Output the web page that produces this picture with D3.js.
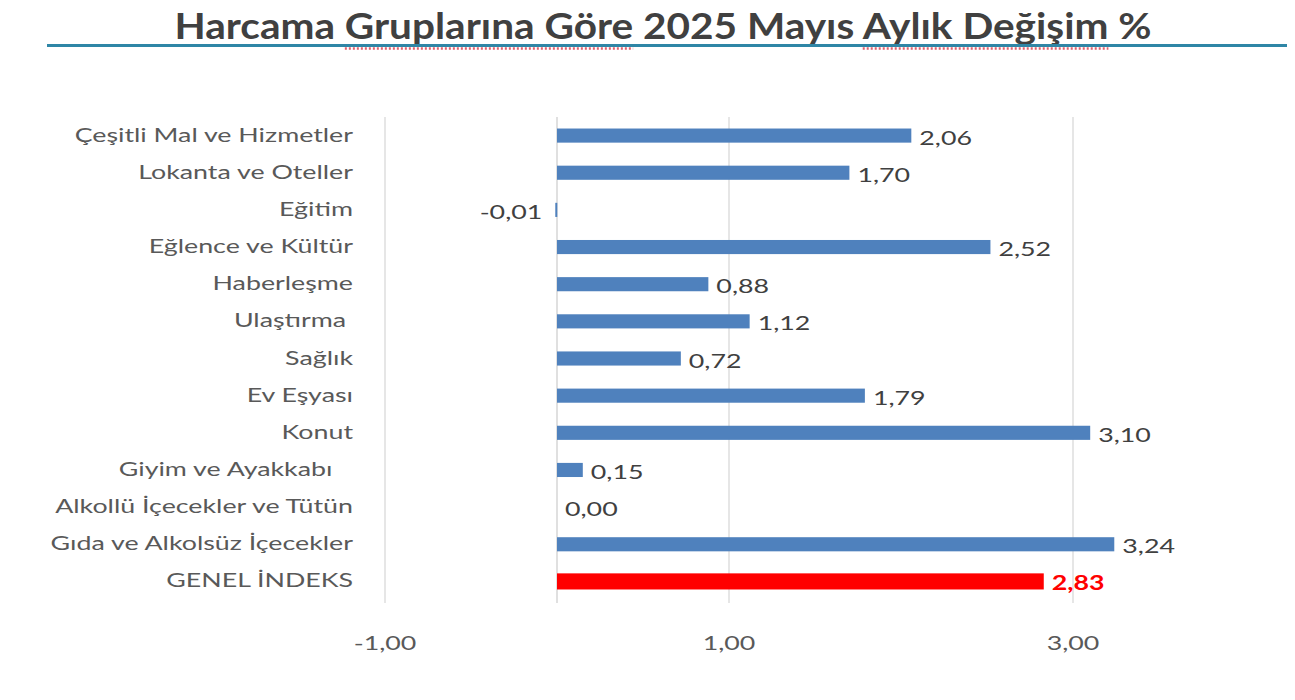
<!DOCTYPE html>
<html>
<head>
<meta charset="utf-8">
<script src="https://cdn.jsdelivr.net/npm/d3@7"></script>
<style>
  html, body { margin: 0; padding: 0; background: #fff; }
  text { font-family: Lato, "Open Sans", sans-serif; }
</style>
</head>
<body>
<div id="chart"></div>
<script>
// categories, top to bottom as in the picture
const categories = [
  "Çeşitli Mal ve Hizmetler",
  "Lokanta ve Oteller",
  "Eğitim",
  "Eğlence ve Kültür",
  "Haberleşme",
  "Ulaştırma ",
  "Sağlık",
  "Ev Eşyası",
  "Konut",
  "Giyim ve Ayakkabı   ",
  "Alkollü İçecekler ve Tütün",
  "Gıda ve Alkolsüz İçecekler",
  "GENEL İNDEKS"
];
const values = [2.06, 1.70, -0.01, 2.52, 0.88, 1.12, 0.72, 1.79, 3.10, 0.15, 0.00, 3.24, 2.83];
const tickValues = [-1, 1, 3];
const highlight = "GENEL İNDEKS";
const title = "Harcama Gruplarına Göre 2025 Mayıs Aylık Değişim %";

function drawChart() {
  const width = 1295;
  const height = 700;
  const stretch = 1.34; // the source text is drawn wide
  const fmt = (v) => d3.format(".2f")(v).replace("−", "-").replace(".", ",");

  const svg = d3
    .select("#chart")
    .append("svg")
    .attr("width", width)
    .attr("height", height);

  const x = d3.scaleLinear().domain([-1, 4]).range([385, 1245]);
  const y = d3.scaleBand().domain(categories).range([117, 600]).padding(0);
  const barH = y.bandwidth() * 0.38;

  // title and rule under it
  const t = svg
    .append("text")
    .attr("x", 663)
    .attr("y", 39)
    .attr("text-anchor", "middle")
    .attr("font-size", 37)
    .attr("font-weight", "bold")
    .attr("fill", "#404040")
    .attr("textLength", 977)
    .attr("lengthAdjust", "spacingAndGlyphs")
    .text(title);

  svg
    .append("line")
    .attr("x1", 47)
    .attr("x2", 1287)
    .attr("y1", 45.5)
    .attr("y2", 45.5)
    .attr("stroke", "#2F86A6")
    .attr("stroke-width", 3);

  // spell-check marks under two word pairs of the title
  const node = t.node();
  ["Gruplarına Göre", "Aylık Değişim"].forEach((w) => {
    const i0 = title.indexOf(w);
    const i1 = i0 + w.length - 1;
    const a = node.getStartPositionOfChar(i0).x;
    const b = node.getEndPositionOfChar(i1).x;
    svg
      .append("line")
      .attr("x1", a)
      .attr("x2", b)
      .attr("y1", 48.5)
      .attr("y2", 48.5)
      .attr("stroke", "#E0606E")
      .attr("stroke-width", 2.5)
      .attr("stroke-dasharray", "2,2");
  });

  // grid lines
  svg
    .append("g")
    .selectAll("line")
    .data(tickValues)
    .enter()
    .append("line")
    .attr("x1", (d) => x(d))
    .attr("x2", (d) => x(d))
    .attr("y1", 117)
    .attr("y2", 603)
    .attr("stroke", "#D9D9D9")
    .attr("stroke-width", 1.3);

  // category axis at zero
  svg
    .append("line")
    .attr("x1", x(0))
    .attr("x2", x(0))
    .attr("y1", 117)
    .attr("y2", 603)
    .attr("stroke", "#D0D0D0")
    .attr("stroke-width", 1.3);

  // tick labels
  svg
    .append("g")
    .selectAll("text")
    .data(tickValues)
    .enter()
    .append("text")
    .attr("transform", (d) => `translate(${x(d)},650) scale(${stretch},1)`)
    .attr("text-anchor", "middle")
    .attr("font-size", 20)
    .attr("fill", "#595959")
    .text((d) => fmt(d));

  // category labels
  svg
    .append("g")
    .selectAll("text")
    .data(categories)
    .enter()
    .append("text")
    .attr(
      "transform",
      (d) => `translate(353,${y(d) + y.bandwidth() / 2 + 6}) scale(${stretch},1)`
    )
    .attr("text-anchor", "end")
    .attr("font-size", 20)
    .attr("fill", "#595959")
    .style("white-space", "pre")
    .text((d) => d);

  const rows = categories.map((c, i) => ({ name: c, value: values[i] }));

  // bars
  svg
    .append("g")
    .selectAll("rect")
    .data(rows)
    .enter()
    .append("rect")
    .attr("x", (d) => x(Math.min(0, d.value)))
    .attr("width", (d) => Math.max(Math.abs(x(d.value) - x(0)), d.value !== 0 ? 2 : 0))
    .attr("y", (d) => {
      const h = d.name === highlight ? barH + 2 : barH;
      return y(d.name) + (y.bandwidth() - h) / 2;
    })
    .attr("height", (d) => (d.name === highlight ? barH + 2 : barH))
    .attr("fill", (d) => (d.name === highlight ? "#FF0000" : "#4F81BD"));

  // value labels
  svg
    .append("g")
    .selectAll("text")
    .data(rows)
    .enter()
    .append("text")
    .attr("transform", (d) => {
      const px = d.value < 0 ? x(d.value) - 13 : x(d.value) + 8;
      return `translate(${px},${y(d.name) + y.bandwidth() / 2 + 9}) scale(${stretch},1)`;
    })
    .attr("text-anchor", (d) => (d.value < 0 ? "end" : "start"))
    .attr("font-size", 20)
    .attr("font-weight", (d) => (d.name === highlight ? "bold" : "normal"))
    .attr("fill", (d) => (d.name === highlight ? "#FF0000" : "#404040"))
    .text((d) => fmt(d.value));
}

drawChart();
</script>
</body>
</html>
